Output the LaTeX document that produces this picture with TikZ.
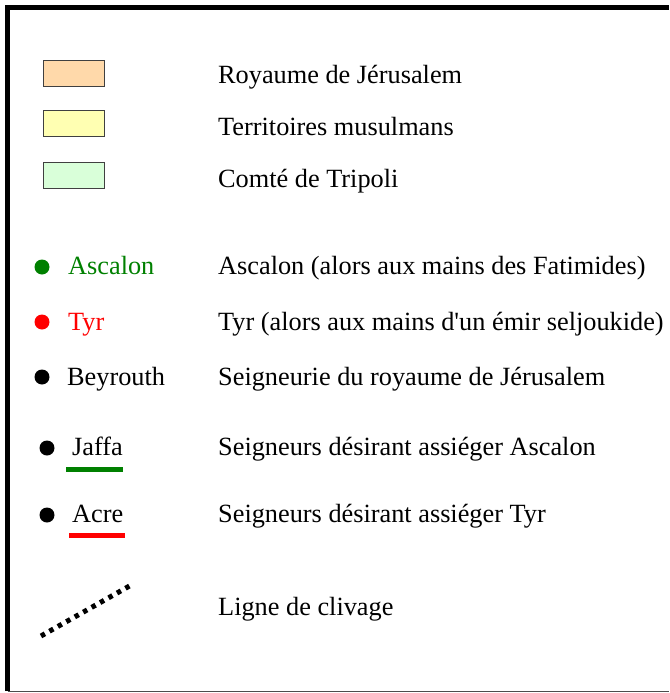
\documentclass[tikz,border=0pt]{standalone}
\usepackage{fontspec}
\setmainfont{Liberation Serif}
\definecolor{kingdom}{RGB}{255,217,170}
\definecolor{muslim}{RGB}{255,255,178}
\definecolor{tripoli}{RGB}{217,255,217}
\definecolor{dgreen}{RGB}{0,128,0}
\begin{document}
\begin{tikzpicture}[x=1pt,y=-1pt,
  lbl/.style={anchor=base west,inner sep=0pt,font=\fontsize{26.3}{30}\selectfont},
  swatch/.style={draw=black!75,line width=1.3pt,minimum width=61pt,minimum height=26pt,inner sep=0pt,anchor=north west},
  dot/.style={circle,fill=#1,inner sep=0pt,minimum size=15pt},
  uline/.style={line width=5pt,draw=#1}
]
\useasboundingbox (0,0) rectangle (669,693);
% frame
\draw[line width=5pt,line cap=butt] (7.5,691) -- (7.5,7.5) -- (669,7.5);
\draw[line width=1pt,black!70] (7.5,691) -- (669,691);
% swatches
\node[swatch,fill=kingdom] (s1) at (43,60) {};
\node[swatch,fill=muslim] (s2) at (43,110) {};
\node[swatch,fill=tripoli] (s3) at (43,162) {};
\node[lbl] (t1) at (218,84) {Royaume de Jérusalem};
\node[lbl] (t2) at (218,135) {Territoires musulmans};
\node[lbl] (t3) at (218,187) {Comté de Tripoli};
% dots
\node[dot=dgreen] (d1) at (42,267) {};
\node[lbl,text=dgreen] (n1) at (68,274) {Ascalon};
\node[lbl] (t4) at (218,274) {Ascalon (alors aux mains des Fatimides)};
\node[dot=red] (d2) at (42,322) {};
\node[lbl,text=red] (n2) at (68,330) {Tyr};
\node[lbl] (t5) at (218,330) {Tyr (alors aux mains d\textquotesingle un émir seljoukide)};
\node[dot=black] (d3) at (42,377) {};
\node[lbl] (n3) at (67,385) {Beyrouth};
\node[lbl] (t6) at (218,385) {Seigneurie du royaume de Jérusalem};
\node[dot=black] (d4) at (47,448) {};
\node[lbl] (n4) at (72,455) {Jaffa};
\coordinate (g1) at (66,469);
\coordinate (g2) at (123,469);
\draw[uline=dgreen] (g1) -- (g2);
\node[lbl] (t7) at (218,455) {Seigneurs désirant assiéger Ascalon};
\node[dot=black] (d5) at (47,515) {};
\node[lbl] (n5) at (72,522) {Acre};
\coordinate (r1) at (69,535);
\coordinate (r2) at (125,535);
\draw[uline=red] (r1) -- (r2);
\node[lbl] (t8) at (218,522) {Seigneurs désirant assiéger Tyr};
% clivage
\coordinate (c1) at (41,636);
\coordinate (c2) at (133,584);
\draw[line width=5pt,dash pattern=on 4.5pt off 5.2pt] (c1) -- (c2);
\node[lbl] (t9) at (218,615) {Ligne de clivage};
\end{tikzpicture}
\end{document}
